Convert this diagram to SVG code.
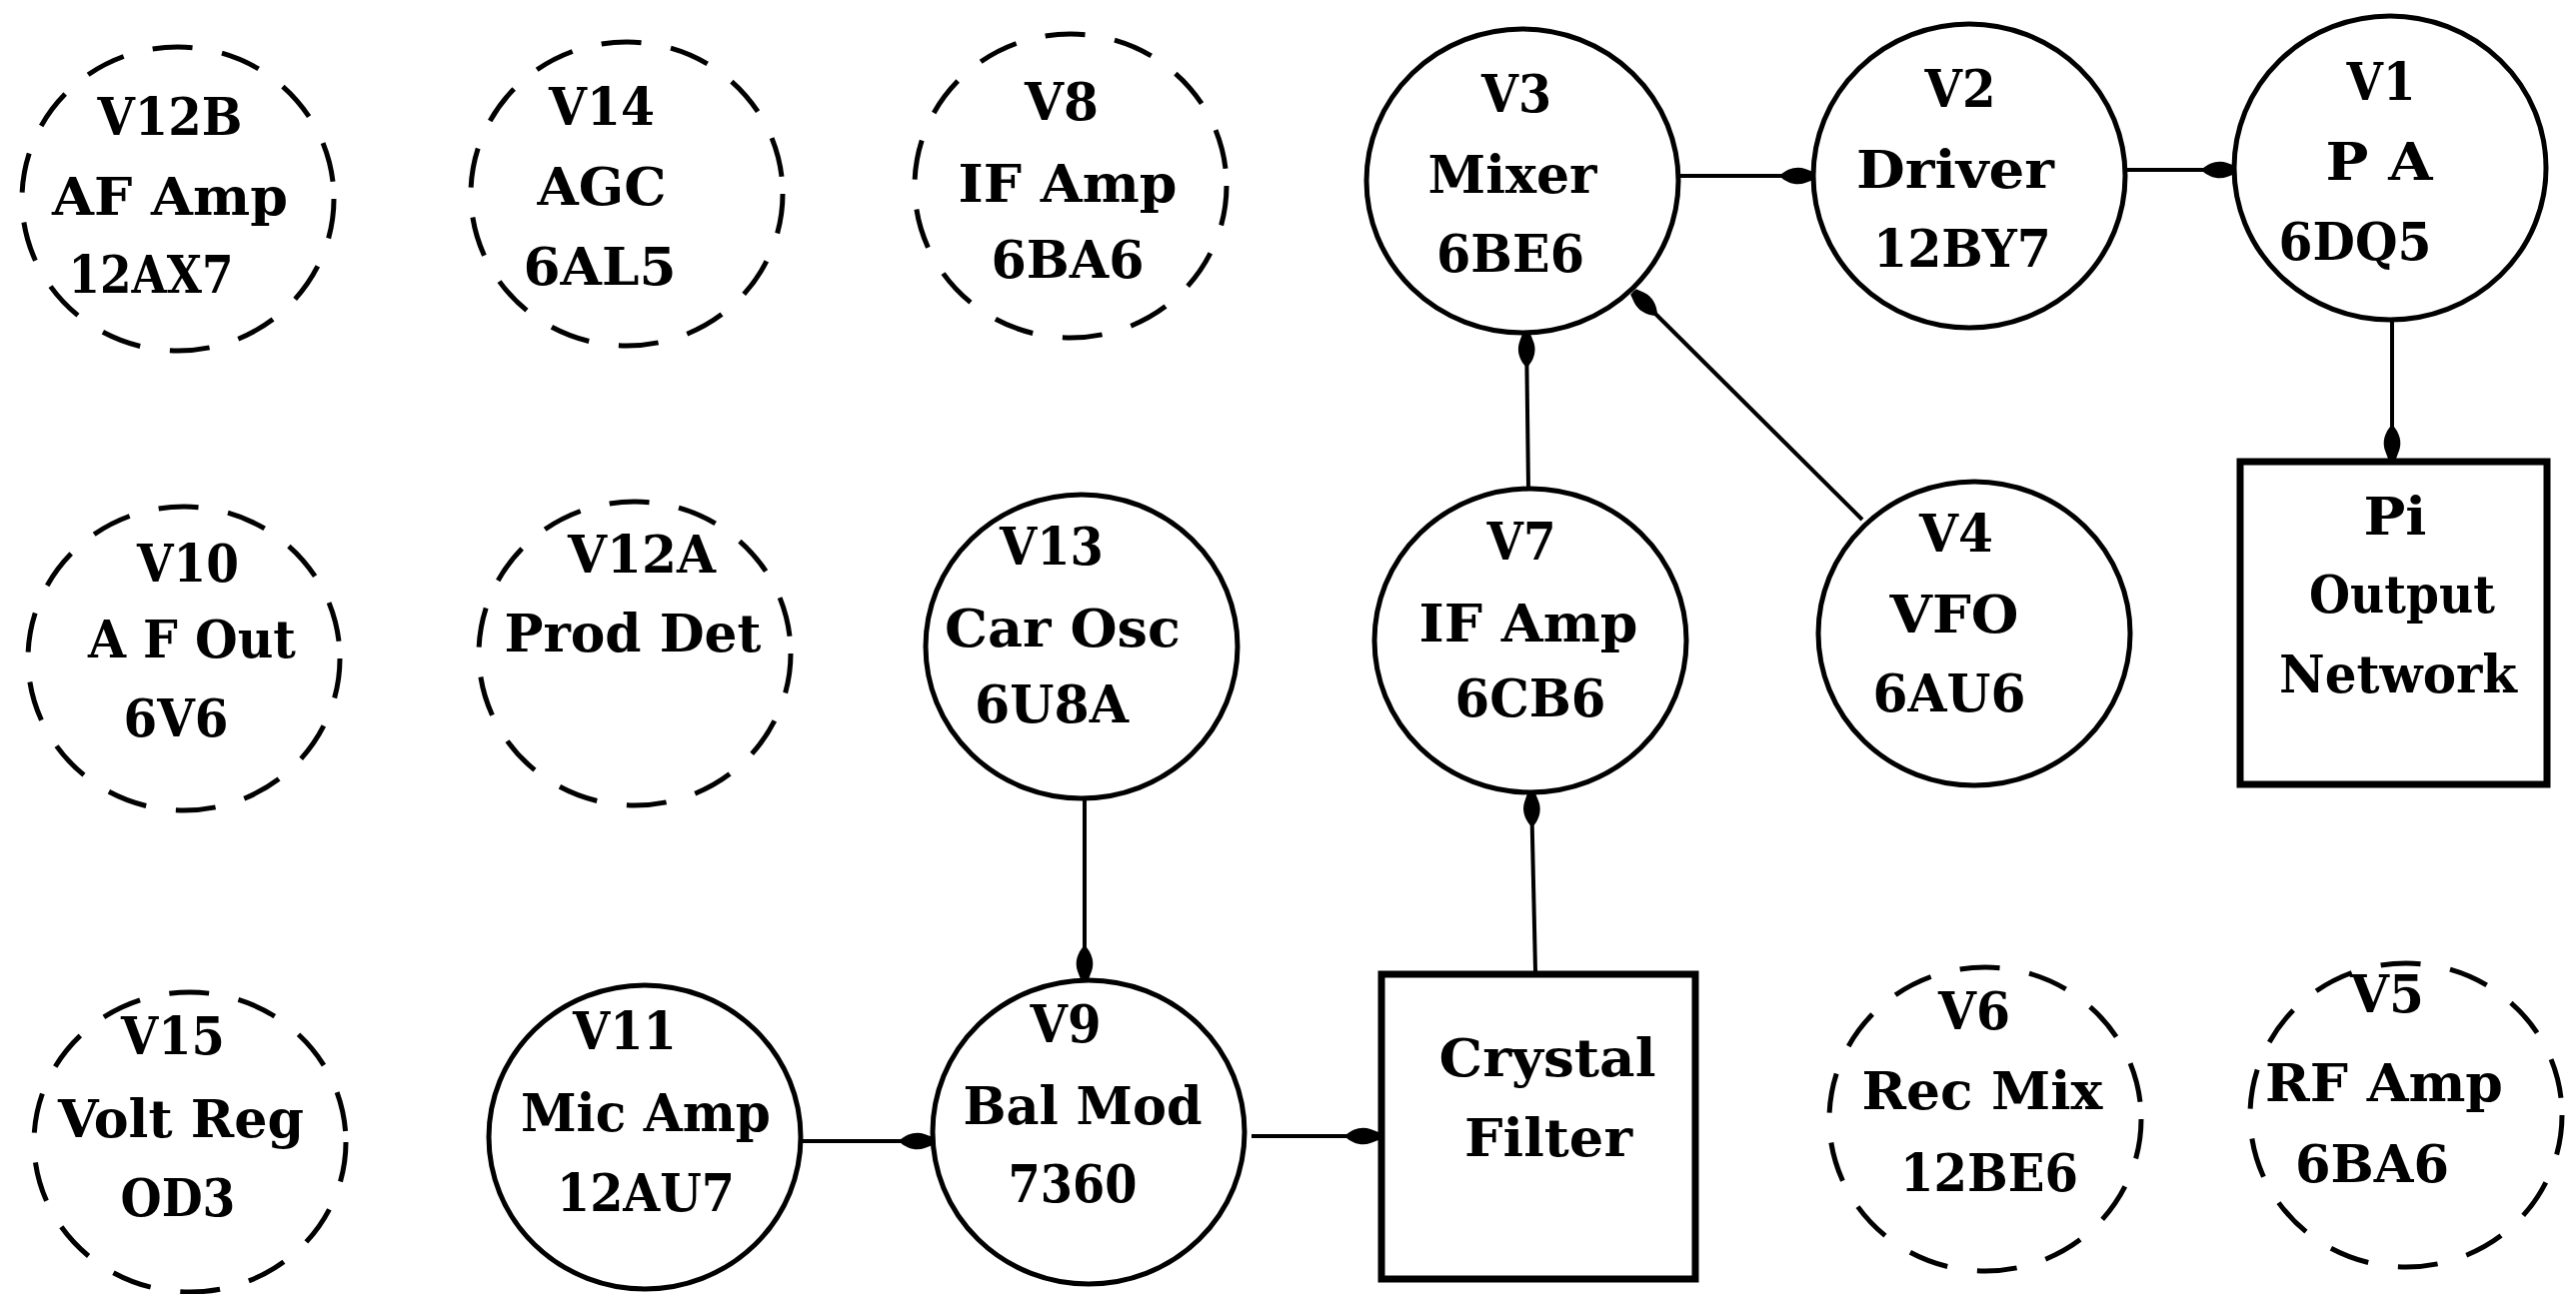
<svg xmlns="http://www.w3.org/2000/svg" width="2577" height="1295" viewBox="0 0 2577 1295">
<style>
  .bg { fill: #fff; }
  .tube { fill: none; stroke: #000; stroke-width: 5; }
  .dash { stroke-dasharray: 40 30; }
  .box { fill: none; stroke: #000; stroke-width: 7; }
  .wire { fill: none; stroke: #000; stroke-width: 4; }
  text { font-family: "DejaVu Serif", "Liberation Serif", serif; font-size: 53px; font-weight: bold; text-anchor: middle; fill: #000; }
</style>
<defs>
  <marker id="dot" markerUnits="userSpaceOnUse" viewBox="-40 -12 44 24" refX="0" refY="0" markerWidth="44" markerHeight="24" orient="auto">
    <path d="M0,-4 L-8,-7 C-16,-10 -26,-8 -34,0 C-26,8 -16,10 -8,7 L0,4 Z" fill="#000"/>
  </marker>
</defs>
<rect class="bg" x="0" y="0" width="2577" height="1295"/>

<g id="V12B"><ellipse class="tube dash" cx="178" cy="199" rx="156" ry="152"/>
  <text x="170" y="135" textLength="145" lengthAdjust="spacingAndGlyphs">V12B</text><text x="170" y="215" textLength="236" lengthAdjust="spacingAndGlyphs">AF Amp</text><text x="151" y="293" textLength="165" lengthAdjust="spacingAndGlyphs">12AX7</text></g>
<g id="V14"><ellipse class="tube dash" cx="627" cy="194" rx="156" ry="152"/>
  <text x="602" y="125" textLength="106" lengthAdjust="spacingAndGlyphs">V14</text><text x="602" y="205" textLength="129" lengthAdjust="spacingAndGlyphs">AGC</text><text x="600" y="285" textLength="153" lengthAdjust="spacingAndGlyphs">6AL5</text></g>
<g id="V8"><ellipse class="tube dash" cx="1071" cy="186" rx="156" ry="152"/>
  <text x="1062" y="120" textLength="74" lengthAdjust="spacingAndGlyphs">V8</text><text x="1068" y="202" textLength="219" lengthAdjust="spacingAndGlyphs">IF Amp</text><text x="1068" y="278" textLength="153" lengthAdjust="spacingAndGlyphs">6BA6</text></g>
<g id="V3"><ellipse class="tube" cx="1523" cy="181" rx="156" ry="152"/>
  <text x="1517" y="112" textLength="70" lengthAdjust="spacingAndGlyphs">V3</text><text x="1513" y="193" textLength="169" lengthAdjust="spacingAndGlyphs">Mixer</text><text x="1511" y="272" textLength="148" lengthAdjust="spacingAndGlyphs">6BE6</text></g>
<g id="V2"><ellipse class="tube" cx="1970" cy="176" rx="156" ry="152"/>
  <text x="1961" y="107" textLength="71" lengthAdjust="spacingAndGlyphs">V2</text><text x="1956" y="188" textLength="198" lengthAdjust="spacingAndGlyphs">Driver</text><text x="1963" y="267" textLength="178" lengthAdjust="spacingAndGlyphs">12BY7</text></g>
<g id="V1"><ellipse class="tube" cx="2391" cy="168" rx="156" ry="152"/>
  <text x="2382" y="100" textLength="69" lengthAdjust="spacingAndGlyphs">V1</text><text x="2380" y="180" textLength="107" lengthAdjust="spacingAndGlyphs">P A</text><text x="2356" y="260" textLength="153" lengthAdjust="spacingAndGlyphs">6DQ5</text></g>

<g id="V10"><ellipse class="tube dash" cx="184" cy="659" rx="156" ry="152"/>
  <text x="188" y="582" textLength="102" lengthAdjust="spacingAndGlyphs">V10</text><text x="192" y="658" textLength="208" lengthAdjust="spacingAndGlyphs">A F Out</text><text x="176" y="737" textLength="105" lengthAdjust="spacingAndGlyphs">6V6</text></g>
<g id="V12A"><ellipse class="tube dash" cx="635" cy="654" rx="156" ry="152"/>
  <text x="642" y="573" textLength="148" lengthAdjust="spacingAndGlyphs">V12A</text><text x="633" y="652" textLength="257" lengthAdjust="spacingAndGlyphs">Prod Det</text></g>
<g id="V13"><ellipse class="tube" cx="1082" cy="647" rx="156" ry="152"/>
  <text x="1052" y="565" textLength="104" lengthAdjust="spacingAndGlyphs">V13</text><text x="1063" y="647" textLength="236" lengthAdjust="spacingAndGlyphs">Car Osc</text><text x="1052" y="723" textLength="154" lengthAdjust="spacingAndGlyphs">6U8A</text></g>
<g id="V7"><ellipse class="tube" cx="1531" cy="641" rx="156" ry="152"/>
  <text x="1522" y="560" textLength="69" lengthAdjust="spacingAndGlyphs">V7</text><text x="1529" y="642" textLength="219" lengthAdjust="spacingAndGlyphs">IF Amp</text><text x="1531" y="717" textLength="151" lengthAdjust="spacingAndGlyphs">6CB6</text></g>
<g id="V4"><ellipse class="tube" cx="1975" cy="634" rx="156" ry="152"/>
  <text x="1957" y="552" textLength="74" lengthAdjust="spacingAndGlyphs">V4</text><text x="1955" y="633" textLength="129" lengthAdjust="spacingAndGlyphs">VFO</text><text x="1950" y="712" textLength="153" lengthAdjust="spacingAndGlyphs">6AU6</text></g>
<g id="Pi"><rect class="box" x="2241" y="462" width="307" height="323"/>
  <text x="2396" y="535" textLength="63" lengthAdjust="spacingAndGlyphs">Pi</text><text x="2403" y="613" textLength="186" lengthAdjust="spacingAndGlyphs">Output</text><text x="2399" y="693" textLength="238" lengthAdjust="spacingAndGlyphs">Network</text></g>

<g id="V15"><ellipse class="tube dash" cx="190" cy="1143" rx="156" ry="150"/>
  <text x="173" y="1055" textLength="104" lengthAdjust="spacingAndGlyphs">V15</text><text x="181" y="1138" textLength="246" lengthAdjust="spacingAndGlyphs">Volt Reg</text><text x="178" y="1217" textLength="115" lengthAdjust="spacingAndGlyphs">OD3</text></g>
<g id="V11"><ellipse class="tube" cx="645" cy="1138" rx="156" ry="152"/>
  <text x="625" y="1050" textLength="104" lengthAdjust="spacingAndGlyphs">V11</text><text x="646" y="1132" textLength="250" lengthAdjust="spacingAndGlyphs">Mic Amp</text><text x="646" y="1212" textLength="178" lengthAdjust="spacingAndGlyphs">12AU7</text></g>
<g id="V9"><ellipse class="tube" cx="1089" cy="1133" rx="156" ry="152"/>
  <text x="1066" y="1043" textLength="71" lengthAdjust="spacingAndGlyphs">V9</text><text x="1083" y="1125" textLength="239" lengthAdjust="spacingAndGlyphs">Bal Mod</text><text x="1073" y="1203" textLength="129" lengthAdjust="spacingAndGlyphs">7360</text></g>
<g id="CrystalFilter"><rect class="box" x="1382" y="975" width="314" height="305"/>
  <text x="1548" y="1077" textLength="217" lengthAdjust="spacingAndGlyphs">Crystal</text><text x="1549" y="1157" textLength="168" lengthAdjust="spacingAndGlyphs">Filter</text></g>
<g id="V6"><ellipse class="tube dash" cx="1986" cy="1120" rx="156" ry="152"/>
  <text x="1975" y="1030" textLength="72" lengthAdjust="spacingAndGlyphs">V6</text><text x="1983" y="1110" textLength="241" lengthAdjust="spacingAndGlyphs">Rec Mix</text><text x="1990" y="1192" textLength="178" lengthAdjust="spacingAndGlyphs">12BE6</text></g>
<g id="V5"><ellipse class="tube dash" cx="2407" cy="1116" rx="156" ry="152"/>
  <text x="2388" y="1013" textLength="74" lengthAdjust="spacingAndGlyphs">V5</text><text x="2385" y="1102" textLength="238" lengthAdjust="spacingAndGlyphs">RF Amp</text><text x="2373" y="1183" textLength="154" lengthAdjust="spacingAndGlyphs">6BA6</text></g>

<g id="connectors">
  <line class="wire" x1="1679" y1="176" x2="1814" y2="176" marker-end="url(#dot)"/>
  <line class="wire" x1="2126" y1="170" x2="2236" y2="170" marker-end="url(#dot)"/>
  <line class="wire" x1="2393" y1="320" x2="2393" y2="459" marker-end="url(#dot)"/>
  <line class="wire" x1="1529" y1="489" x2="1527" y2="334" marker-end="url(#dot)"/>
  <line class="wire" x1="1863" y1="520" x2="1634" y2="292" marker-end="url(#dot)"/>
  <line class="wire" x1="1536" y1="972" x2="1532" y2="794" marker-end="url(#dot)"/>
  <line class="wire" x1="1085" y1="799" x2="1085" y2="980" marker-end="url(#dot)"/>
  <line class="wire" x1="801" y1="1142" x2="933" y2="1142" marker-end="url(#dot)"/>
  <line class="wire" x1="1252" y1="1137" x2="1379" y2="1137" marker-end="url(#dot)"/>
</g>
</svg>
